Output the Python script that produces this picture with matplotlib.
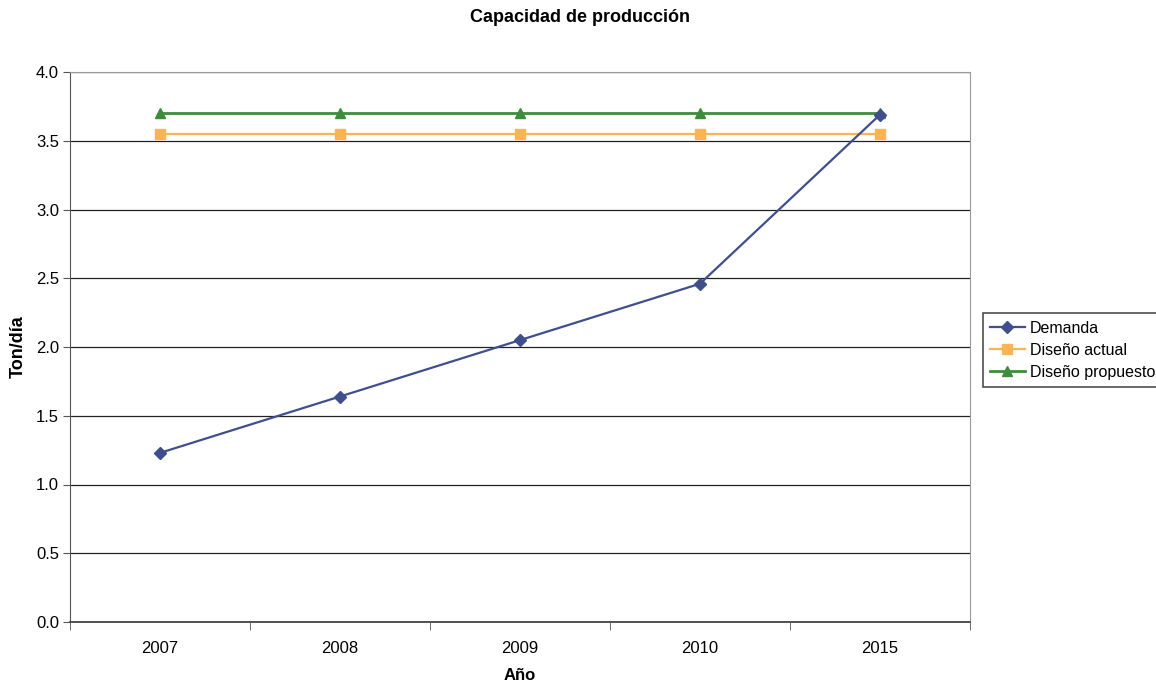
import matplotlib.pyplot as plt
from matplotlib.ticker import FixedLocator, NullFormatter

plt.rcParams["font.family"] = ["Liberation Sans", "DejaVu Sans"]

years = ["2007", "2008", "2009", "2010", "2015"]
demanda = [1.23, 1.64, 2.05, 2.46, 3.69]
diseno_actual = [3.55, 3.55, 3.55, 3.55, 3.55]
diseno_propuesto = [3.70, 3.70, 3.70, 3.70, 3.70]

W, H = 1156, 686
fig = plt.figure(figsize=(W / 100, H / 100), dpi=100)
ax = fig.add_axes([70 / W, 1 - 622 / H, 900 / W, 550 / H])

x = list(range(len(years)))
ax.plot(x, demanda, color="#3f4f8c", marker="D", markersize=6, linewidth=1.6,
        label="Demanda", zorder=5)
ax.plot(x, diseno_actual, color="#fbb454", marker="s", markersize=7, linewidth=1.6,
        label="Diseño actual", zorder=4)
ax.plot(x, diseno_propuesto, color="#3c8c3c", marker="^", markersize=7, linewidth=2.0,
        label="Diseño propuesto", zorder=4)

ax.set_xlim(-0.5, len(years) - 0.5)
ax.set_ylim(0, 4.0)
ax.set_yticks([i * 0.5 for i in range(9)])
ax.set_yticklabels([f"{i * 0.5:.1f}" for i in range(9)])
ax.yaxis.grid(True, color="#222222", linewidth=0.9)
ax.set_axisbelow(True)

# category labels sit between the tick marks
ax.set_xticks(x)
ax.set_xticklabels(years)
ax.tick_params(axis="x", which="major", length=0, pad=14, labelsize=12)
ax.xaxis.set_minor_locator(FixedLocator([i - 0.5 for i in range(len(years) + 1)]))
ax.xaxis.set_minor_formatter(NullFormatter())
ax.tick_params(axis="x", which="minor", length=6, color="#555555", direction="out")
ax.tick_params(axis="y", length=5, color="#555555", labelsize=12, pad=3)

for side in ("top", "right"):
    ax.spines[side].set_color("#9a9a9a")
ax.spines["left"].set_color("#555555")
ax.spines["bottom"].set_color("#444444")
ax.spines["bottom"].set_linewidth(1.3)

ax.set_xlabel("Año", fontsize=12, fontweight="bold")
ax.xaxis.set_label_coords((520 - 70) / 900, (622 - 676) / 550)
ax.xaxis.label.set_va("center")
ax.set_ylabel("Ton/día", fontsize=13, fontweight="bold")
ax.yaxis.set_label_coords((18 - 70) / 900, 0.5)
ax.yaxis.label.set_va("center")
fig.text(580 / W, 1 - 17 / H, "Capacidad de producción", ha="center", va="center",
         fontsize=13, fontweight="bold")

leg = ax.legend(loc="center left", bbox_to_anchor=(1.014, 0.494), fontsize=11.5,
                frameon=True, fancybox=False, borderpad=0.45, handlelength=2.2,
                handletextpad=0.3, labelspacing=0.45, borderaxespad=0)
leg.get_frame().set_edgecolor("#111111")
leg.get_frame().set_linewidth(1.1)

fig.savefig("out.png", dpi=100)
